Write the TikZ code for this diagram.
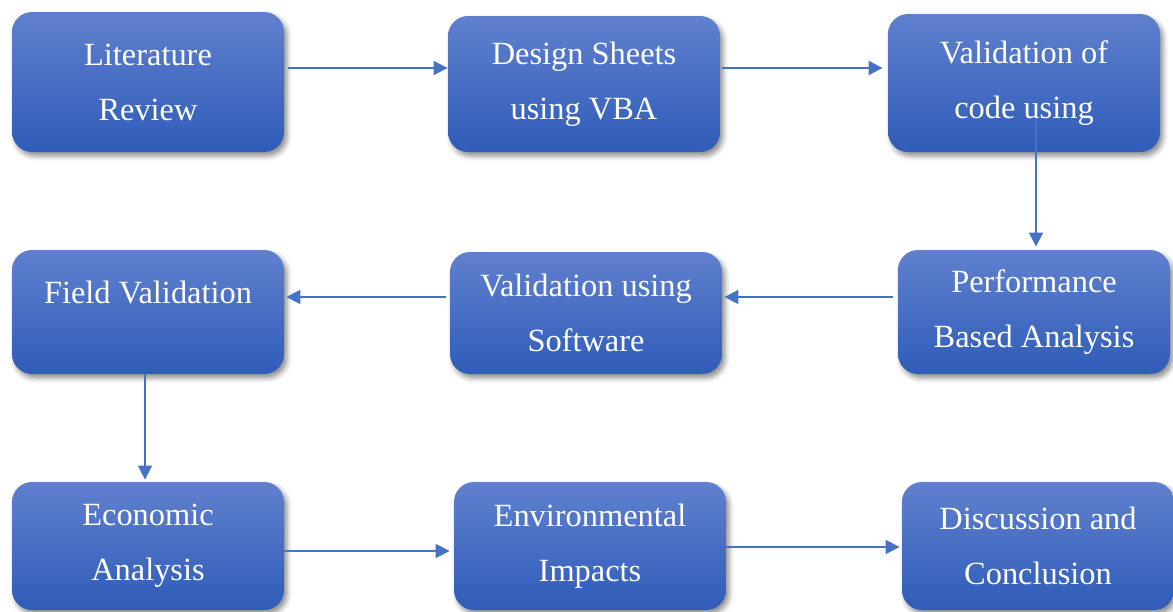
\documentclass[tikz,border=0pt]{standalone}
\usepackage{fontspec}
\setmainfont{Liberation Serif}
\usetikzlibrary{arrows.meta,shadows.blur}
\definecolor{boxtop}{RGB}{96,128,206}
\definecolor{boxbot}{RGB}{47,92,184}
\definecolor{flowblue}{RGB}{68,114,196}
\begin{document}
\begin{tikzpicture}[x=0.5pt,y=-0.5pt,
		stage/.style={rectangle, rounded corners=10pt, minimum width=136pt, minimum height=62pt,
			top color=boxtop, bottom color=boxbot, draw=none, text=white, align=center,
			font=\fontsize{16.2}{27.5}\selectfont,
			blur shadow={shadow xshift=1.5pt, shadow yshift=-2pt, shadow blur radius=2.5pt, shadow opacity=45}},
		flow/.style={flowblue, line width=0.8pt, -{Triangle[length=7pt,width=7pt]}}]
	\useasboundingbox (0,0) rectangle (1173,611);
	% first row
	\node[stage, minimum height=70pt] (lit) at (148,82) {Literature\\Review};
	\node[stage, minimum height=68pt] (design) at (584,84) {Design Sheets\\using VBA};
	\node[stage, minimum height=69pt] (code) at (1024,83) {Validation of\\code using};
	% second row
	\node[stage] (perf) at (1034,312) {Performance\\Based Analysis};
	\node[stage, minimum height=61pt] (soft) at (586,313) {Validation using\\Software};
	\node[stage] (field) at (148,312) {Field Validation\\[-8pt]\mbox{}};
	% third row, running off the bottom edge
	\node[stage, minimum height=64pt] (econ) at (148,546) {Economic\\Analysis};
	\node[stage, minimum height=64pt] (env) at (590,546) {Environmental\\Impacts};
	\node[stage, minimum height=64pt] (disc) at (1038,546) {Discussion and\\Conclusion};
	% connectors
	\draw[flow] ([shift={(4,-14)}]lit.east) -- ([yshift=7pt]lit.east -| design.west);
	\draw[flow] ([shift={(2,-16)}]design.east) -- ([shift={(-5,-16)}]design.east -| code.west);
	\draw[flow] ([shift={(12,35)}]code.center) coordinate (c) -- ([yshift=1.5pt]c |- perf.north);
	\draw[flow] ([shift={(-5,-15)}]perf.west) -- ([shift={(2,-15)}]perf.west -| soft.east);
	\draw[flow] ([shift={(-4,-16)}]soft.west) -- ([shift={(2,-16)}]soft.west -| field.east);
	\draw[flow] ([xshift=-1.5pt]field.south) -- ([shift={(-3,-2)}]econ.north);
	\draw[flow] ([yshift=-2.5pt]econ.east) -- ([shift={(-4,5)}]econ.east -| env.west);
	\draw[flow] ([yshift=-0.5pt]env.east) -- ([shift={(-2,1)}]env.east -| disc.west);
\end{tikzpicture}
\end{document}
